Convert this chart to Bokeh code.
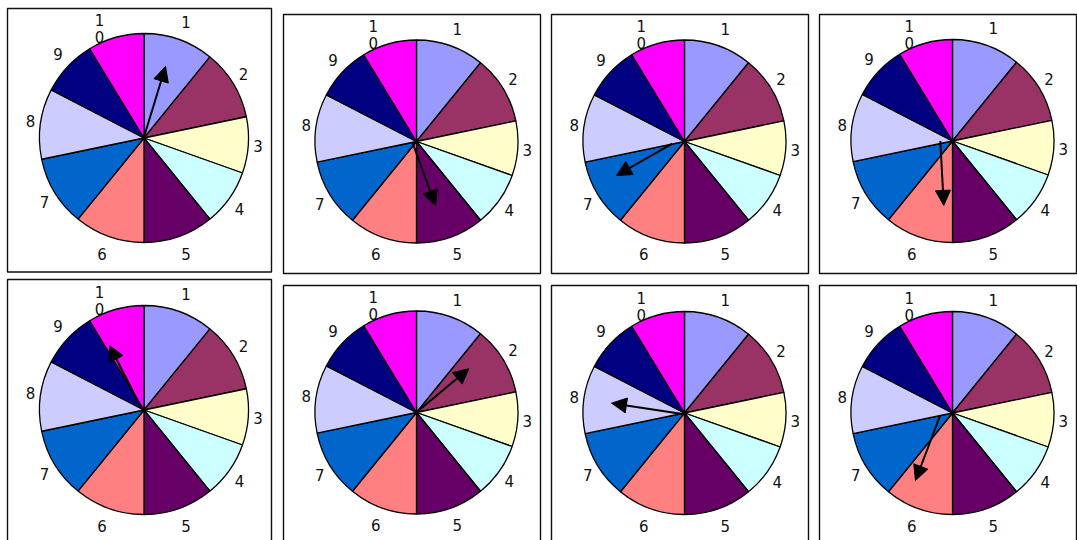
import numpy as np
from bokeh.plotting import figure
from bokeh.models import Range1d, Arrow, NormalHead, ColumnDataSource
from bokeh.core.properties import value
from bokeh.embed import file_html
from bokeh.resources import INLINE

# ---------------- data ----------------
slice_labels = ["1", "2", "3", "4", "5", "6", "7", "8", "9", "10"]
slice_values = [1.25, 1.25, 1.0, 1.0, 1.25, 1.25, 1.25, 1.25, 1.0, 1.0]
slice_colors = ["#9999FF", "#993366", "#FFFFCC", "#CCFFFF", "#660066",
                "#FF8080", "#0066CC", "#CCCCFF", "#000080", "#FF00FF"]

# spinner arrows of the 8 panels: tail / tip relative to the pie centre, in pie radii (x right, y up)
arrow_tail_x = [0.00, -0.04, -0.12, -0.12, -0.02, 0.01, -0.02, -0.12]
arrow_tail_y = [0.01, -0.01, -0.02, 0.00, 0.01, 0.01, -0.01, -0.02]
arrow_tip_x = [0.206, 0.187, -0.670, -0.086, -0.330, 0.515, -0.719, -0.365]
arrow_tip_y = [0.684, -0.631, -0.335, -0.635, 0.617, 0.431, 0.097, -0.665]

# ---------------- layout (pixels of the picture) ----------------
W, H = 1077, 540
def sx(X):
    return X
def sy(Y):
    return H - Y

# pie centre and radius for each panel (picture coords)
panel_cx = [143.5, 416, 684, 952, 143.5, 416, 684, 952]
panel_cy = [137.5, 141, 141, 140.5, 409.5, 412, 412.5, 412.5]
panel_r = [104.5, 101.5, 101.5, 101.5, 104.5, 101.5, 101.5, 101.5]
# frames (picture coords): left, right, top, bottom
frame_l = [7, 283, 551, 819, 7, 283, 551, 819]
frame_r = [271, 540, 808, 1076, 271, 540, 808, 1076]
frame_t = [8, 14, 14, 14, 279, 285, 285, 285]
frame_b = [271.5, 273, 273, 273, 560, 560, 560, 560]

p = figure(width=W, height=H, x_range=Range1d(0, W), y_range=Range1d(0, H),
           output_backend="svg", toolbar_location=None, min_border=0,
           x_axis_location=None, y_axis_location=None)
p.grid.visible = False
p.outline_line_color = None
p.background_fill_color = "white"
p.border_fill_color = "white"

# frames
p.quad(left=[sx(v) for v in frame_l], right=[sx(v) for v in frame_r],
       top=[sy(v) for v in frame_t], bottom=[sy(v) for v in frame_b],
       fill_color=None, line_color="#111111", line_width=1.4)

vals = np.array(slice_values, dtype=float)
cum = np.concatenate([[0.0], np.cumsum(vals)]) / vals.sum()
ang0 = np.pi / 2 - 2 * np.pi * cum[:-1]   # clockwise from top
ang1 = np.pi / 2 - 2 * np.pi * cum[1:]
mid = (ang0 + ang1) / 2

wx, wy, wr, ws, we, wc = [], [], [], [], [], []
tx, ty, tt = [], [], []
ax0, ay0, ax1, ay1 = [], [], [], []
for k in range(8):
    cx, cy, r = sx(panel_cx[k]), sy(panel_cy[k]), panel_r[k]
    for i in range(len(vals)):
        wx.append(cx); wy.append(cy); wr.append(r)
        ws.append(ang1[i]); we.append(ang0[i]); wc.append(slice_colors[i])
        c, s = np.cos(mid[i]), np.sin(mid[i])
        lx = cx + r * (1.091 * c + 0.038 * np.sign(c) * abs(s))
        ly = cy + r * 1.177 * s
        lab = slice_labels[i]
        if len(lab) == 1:
            tx.append(lx); ty.append(ly); tt.append(lab)
        else:  # label wraps one character per line
            for j, ch in enumerate(lab):
                tx.append(lx - 10 * r / 104.5)
                ty.append(ly - j * 17.5 * r / 104.5)
                tt.append(ch)
    ax0.append(cx + r * arrow_tail_x[k]); ay0.append(cy + r * arrow_tail_y[k])
    ax1.append(cx + r * arrow_tip_x[k]); ay1.append(cy + r * arrow_tip_y[k])

p.wedge(x=wx, y=wy, radius=wr, start_angle=ws, end_angle=we, direction="anticlock",
        fill_color=wc, line_color="black", line_width=1.3)

p.text(x=tx, y=ty, text=tt, text_align="center", text_baseline="middle",
       text_font=value("DejaVu Sans"), text_font_size="15px", text_color="#111111")

src = ColumnDataSource(dict(x0=ax0, y0=ay0, x1=ax1, y1=ay1))
p.add_layout(Arrow(end=NormalHead(size=15, fill_color="black", line_color="black"),
                   x_start="x0", y_start="y0", x_end="x1", y_end="y1",
                   source=src, line_color="black", line_width=2))

open("out.html", "w").write(file_html(p, INLINE))
